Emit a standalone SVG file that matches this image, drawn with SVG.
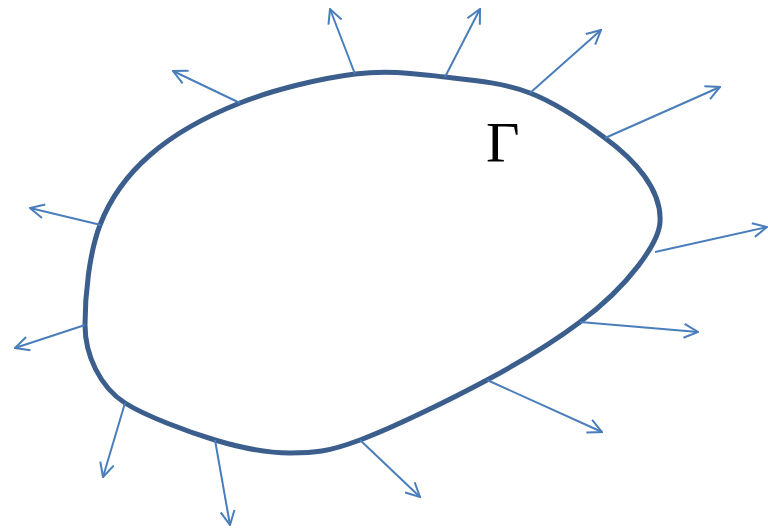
<svg xmlns="http://www.w3.org/2000/svg" width="768" height="528" viewBox="0 0 768 528">
<defs>
<marker id="ah" viewBox="0 0 16 16" refX="15" refY="8" markerWidth="16" markerHeight="16" markerUnits="userSpaceOnUse" orient="auto">
<path d="M1,1 L15,8 L1,15" fill="none" stroke="#4a7ebb" stroke-width="2"/>
</marker>
<style>
.n{stroke:#4a7ebb;stroke-width:2;fill:none;marker-end:url(#ah)}
.b{stroke:#3b5e8c;stroke-width:5;fill:none}
</style>
</defs>
<rect width="768" height="528" fill="#fff"/>
<g id="boundary">
<path class="b" d="M240,103 C274.2,89.5 320.8,78.3 355,74 C389.2,69.7 415.8,73.8 445,77 C474.2,80.2 503.3,82.8 530,93 C556.7,103.2 585.3,123.2 605,138 C635,160 662,190 660,222 C659,242 630,285 580,322 C552.5,342.8 523.7,360.3 487,380 C450.3,399.7 392.8,427.8 360,440 C327.2,452.2 314.2,453 290,453 C265.8,453 242.5,448.3 215,440 C187.5,431.7 145.5,416 125,403 C100,387 85,355 85,325 C85,295 89.2,253.3 100,225 C110.8,196.7 126.7,175.3 150,155 C173.3,134.7 205.8,116.5 240,103 Z"/>
</g>
<g id="normals">
<line class="n" x1="355" y1="74" x2="330" y2="9"/>
<line class="n" x1="445" y1="77" x2="480" y2="9"/>
<line class="n" x1="530" y1="93" x2="601" y2="30"/>
<line class="n" x1="605" y1="138" x2="720" y2="87"/>
<line class="n" x1="655" y1="252" x2="767" y2="227"/>
<line class="n" x1="580" y1="322" x2="698" y2="332"/>
<line class="n" x1="487" y1="380" x2="602" y2="432"/>
<line class="n" x1="360" y1="440" x2="420" y2="497"/>
<line class="n" x1="215" y1="440" x2="230" y2="525"/>
<line class="n" x1="125" y1="403" x2="103" y2="477"/>
<line class="n" x1="85" y1="325" x2="15" y2="348"/>
<line class="n" x1="101" y1="225" x2="30" y2="208"/>
<line class="n" x1="240" y1="103" x2="173" y2="71"/>
</g>
<g id="label">
<text x="486" y="162" font-family="Liberation Serif, serif" font-size="58" fill="#000">Γ</text>
</g>
</svg>
